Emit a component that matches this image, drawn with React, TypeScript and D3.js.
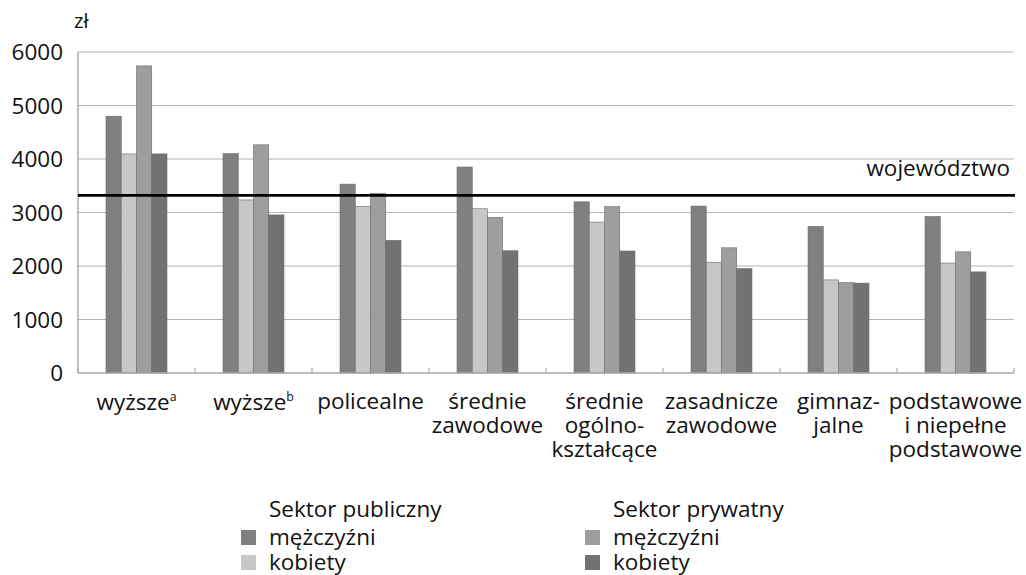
import React from "react";
import * as d3 from "d3";

const categories = [
  ["wyższe", "a"],
  ["wyższe", "b"],
  ["policealne"],
  ["średnie", "zawodowe"],
  ["średnie", "ogólno-", "kształcące"],
  ["zasadnicze", "zawodowe"],
  ["gimnaz-", "jalne"],
  ["podstawowe", "i niepełne", "podstawowe"],
];

const seriesNames = ["pubM", "pubK", "privM", "privK"];
const pubMen = [4800, 4100, 3530, 3850, 3200, 3120, 2740, 2925];
const pubWomen = [4095, 3235, 3115, 3070, 2820, 2070, 1740, 2055];
const privMen = [5740, 4265, 3360, 2910, 3110, 2340, 1690, 2265];
const privWomen = [4095, 2955, 2480, 2285, 2280, 1950, 1680, 1890];
const series = [pubMen, pubWomen, privMen, privWomen];
const colors = ["#7f8082", "#c6c7c9", "#9d9ea0", "#717274"];
const yTicks = [0, 1000, 2000, 3000, 4000, 5000, 6000];
const voivodeship = 3320;

const FONT = "'Open Sans', sans-serif";
const FS = 22.5;

export default function App() {
  const left = 78, right = 1014, top = 52, bottom = 373;
  const idx = categories.map((_, i) => i);
  const x = d3.scaleBand<number>().domain(idx).range([left, right]).paddingInner(0.479).paddingOuter(0.2395);
  const xs = d3.scaleBand<number>().domain([0, 1, 2, 3]).range([0, x.bandwidth()]);
  const y = d3.scaleLinear().domain([0, 6000]).range([bottom, top]);
  const step = x.step();

  return (
    <svg width={1026} height={575} style={{ position: "absolute", left: 0, top: 0 }} fontFamily={FONT}>
      <rect width={1026} height={575} fill="#fff" />
      {yTicks.map((t) => (
        <g key={t}>
          {t > 0 && <line x1={left} x2={right} y1={y(t)} y2={y(t)} stroke="#b4b4b4" strokeWidth={1.2} />}
          <text x={63} y={y(t)} dy="0.36em" textAnchor="end" fontSize={FS} fill="#111">{t}</text>
        </g>
      ))}
      <text x={74} y={28} fontSize={FS * 0.9} fill="#111">zł</text>
      {series.map((vals, s) =>
        vals.map((v, i) => (
          <rect key={s + "-" + i} x={(x(i) as number) + (xs(s) as number)} y={y(v)} width={xs.bandwidth()} height={y(0) - y(v)}
            fill={colors[s]} stroke="#6a6b6d" strokeWidth={0.6} />
        ))
      )}
      <line x1={left} x2={left} y1={top} y2={bottom} stroke="#a8a8a8" strokeWidth={1.4} />
      <line x1={left} x2={right} y1={bottom} y2={bottom} stroke="#a8a8a8" strokeWidth={1.6} />
      {d3.range(categories.length + 1).map((i) => (
        <line key={i} x1={left + i * step} x2={left + i * step} y1={bottom - 5} y2={bottom} stroke="#a8a8a8" strokeWidth={1.2} />
      ))}
      <line x1={left} x2={right + 1} y1={y(voivodeship)} y2={y(voivodeship)} stroke="#000" strokeWidth={2.6} />
      <text x={1010} y={176} textAnchor="end" fontSize={FS} fill="#111">województwo</text>
      {categories.map((lines, i) => {
        const cx = (x(i) as number) + x.bandwidth() / 2;
        if (i < 2) {
          return (
            <text key={i} x={cx} y={410} textAnchor="middle" fontSize={FS} fill="#111">
              {lines[0]}
              <tspan fontSize={FS * 0.55} dy={-9}>{lines[1]}</tspan>
            </text>
          );
        }
        return (
          <text key={i} textAnchor="middle" fontSize={FS} fill="#111">
            {lines.map((l, k) => (
              <tspan key={k} x={cx} y={409 + k * 24}>{l}</tspan>
            ))}
          </text>
        );
      })}
      {[
        { title: "Sektor publiczny", x: 241, cols: [0, 1] },
        { title: "Sektor prywatny", x: 585, cols: [2, 3] },
      ].map((g) => (
        <g key={g.title}>
          <text x={g.x + 28} y={517} fontSize={FS} fill="#111">{g.title}</text>
          {g.cols.map((c, k) => (
            <g key={c}>
              <rect x={g.x} y={530 + k * 25} width={15} height={15} fill={colors[c]} />
              <text x={g.x + 28} y={545 + k * 25} fontSize={FS} fill="#111">{k === 0 ? "mężczyźni" : "kobiety"}</text>
            </g>
          ))}
        </g>
      ))}
    </svg>
  );
}
